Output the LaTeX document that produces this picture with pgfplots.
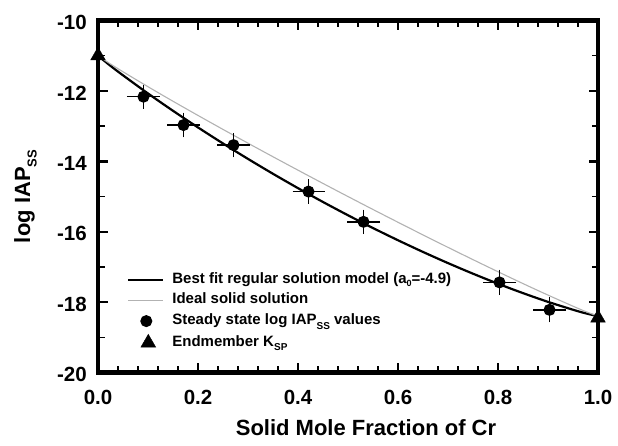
\documentclass[border=0pt]{standalone}
\usepackage{fontspec}
\setmainfont{Liberation Sans}
\usepackage{pgfplots}
\pgfplotsset{compat=1.18}
\usetikzlibrary{calc}

\pgfplotsset{
  lineleg/.style={legend image code/.code={\draw[##1] (0pt,0pt) -- (35pt,0pt);}},
  dotleg/.style={legend image code/.code={\draw[##1,mark repeat=2,mark phase=2] plot coordinates {(0pt,0pt) (18pt,0pt) (36pt,0pt)};}},
  triLeg/.style={legend image code/.code={\draw[##1,mark repeat=2,mark phase=2] plot coordinates {(0pt,0pt) (20pt,0pt) (40pt,0pt)};}},
}

\begin{document}
\begin{tikzpicture}
\begin{axis}[
  scale only axis,
  width=500pt, height=352pt,
  xmin=0, xmax=1, ymin=-20, ymax=-10,
  tick align=inside,
  major tick length=0pt,
  xtick={0,0.2,0.4,0.6,0.8,1.0},
  ytick={-20,-18,-16,-14,-12,-10},
  /pgf/number format/assume math mode=true,
  xticklabel={\pgfmathprintnumber[fixed,fixed zerofill,precision=1]{\tick}},
  xticklabel style={anchor=north, inner sep=0pt, yshift=-17.5pt},
  yticklabel style={anchor=east, inner sep=0pt, xshift=-11pt, yshift=-2pt},
  ticklabel style={font=\fontsize{20.5}{20.5}\selectfont\bfseries},
  label style={font=\fontsize{22}{22}\selectfont\bfseries},
  xlabel={Solid Mole Fraction of Cr},
  xlabel style={at={(axis description cs:0.536,-0.1776)}, anchor=base},
  ylabel={log IAP\raisebox{-0.3em}{\fontsize{13}{13}\selectfont SS}},
  ylabel style={at={(axis description cs:-0.145,0.5)}, anchor=center},
  legend style={at={(0.058,0.2855)}, anchor=north west, draw=none, fill=none,
    inner sep=0pt, row sep=5.7pt, column sep=8pt,
    nodes={inner sep=0pt, text height=11pt, text depth=4pt},
    font=\fontsize{15}{15}\selectfont\bfseries},
  legend cell align=left,
]
\coordinate (bl) at (rel axis cs:0,0);
\coordinate (tr) at (rel axis cs:1,1);

% regular solution model, a0 = -4.9
\addplot[black, line width=2.2pt, smooth, lineleg]
  coordinates {
  (0,-11.000) (0.025,-11.288) (0.05,-11.557) (0.10,-12.073) (0.15,-12.565)
  (0.20,-13.038) (0.25,-13.493) (0.30,-13.932) (0.35,-14.355) (0.40,-14.763)
  (0.45,-15.156) (0.50,-15.533) (0.55,-15.896) (0.60,-16.243) (0.65,-16.575)
  (0.70,-16.892) (0.75,-17.193) (0.80,-17.478) (0.85,-17.745) (0.90,-17.993)
  (0.95,-18.217) (0.975,-18.318) (1,-18.400)};
\addlegendentry{Best fit regular solution model (a\raisebox{-0.25em}{\fontsize{9}{9}\selectfont 0}=-4.9)}

% ideal solid solution
\addplot[black!30, line width=1.1pt, smooth, lineleg]
  coordinates {
  (0,-11.000) (0.025,-11.236) (0.05,-11.456) (0.10,-11.881) (0.15,-12.294)
  (0.20,-12.697) (0.25,-13.094) (0.30,-13.485) (0.35,-13.871) (0.40,-14.252)
  (0.45,-14.629) (0.50,-15.001) (0.55,-15.369) (0.60,-15.732) (0.65,-16.091)
  (0.70,-16.445) (0.75,-16.794) (0.80,-17.137) (0.85,-17.474) (0.90,-17.801)
  (0.95,-18.116) (0.975,-18.266) (1,-18.400)};
\addlegendentry{Ideal solid solution}

% measured steady state values
\addplot[black, line width=1.4pt, only marks, mark=*, mark size=5.3pt, dotleg,
  error bars/x dir=both, error bars/x explicit,
  error bars/y dir=both, error bars/y explicit,
  error bars/error bar style={line width=1.4pt, black},
  error bars/error mark options={mark size=3.5pt, line width=1.4pt, black}]
  coordinates {
  (0.091,-12.165) +- (0.026,0.24)
  (0.171,-12.970) +- (0.026,0.25)
  (0.271,-13.540) +- (0.026,0.25)
  (0.421,-14.860) +- (0.025,0.25)
  (0.531,-15.720) +- (0.026,0.25)
  (0.803,-17.440) +- (0.026,0.26)
  (0.903,-18.220) +- (0.026,0.26)};
\addlegendentry{Steady state log IAP\raisebox{-0.3em}{\fontsize{10}{10}\selectfont SS} values}

% endmember solubility products
\addplot[black, only marks, mark=triangle*, mark size=8.5pt, triLeg]
  coordinates {(0,-11.0) (1,-18.45)};
\addlegendentry{Endmember K\raisebox{-0.3em}{\fontsize{10}{10}\selectfont SP}}
\end{axis}

% heavy frame with inward ticks on all four sides
% (x: 500pt per unit, minor every 0.04; y: 35.2pt per unit, minor every 1)
\foreach \k in {1,...,24} {
  \draw[line width=1.6pt] ($(bl)+(\k*20pt,0)$) -- ++(0,6.5pt);
  \draw[line width=1.6pt] ($(tr)-(\k*20pt,0)$) -- ++(0,-6.5pt);
}
\foreach \k in {5,10,15,20} {
  \draw[line width=2.4pt] ($(bl)+(\k*20pt,0)$) -- ++(0,9.5pt);
  \draw[line width=2.4pt] ($(tr)-(\k*20pt,0)$) -- ++(0,-9.5pt);
}
\foreach \k in {1,3,5,7,9} {
  \draw[line width=1.6pt] ($(bl)+(0,\k*35.2pt)$) -- ++(6.5pt,0);
  \draw[line width=1.6pt] ($(tr)-(0,\k*35.2pt)$) -- ++(-6.5pt,0);
}
\foreach \k in {2,4,6,8} {
  \draw[line width=2.4pt] ($(bl)+(0,\k*35.2pt)$) -- ++(9.5pt,0);
  \draw[line width=2.4pt] ($(tr)-(0,\k*35.2pt)$) -- ++(-9.5pt,0);
}
\draw[line width=4.5pt, line join=miter] (bl) rectangle (tr);
\path ($(bl)+(-98pt,-72.5pt)$) rectangle ($(tr)+(20pt,20.5pt)$);
\end{tikzpicture}
\end{document}
